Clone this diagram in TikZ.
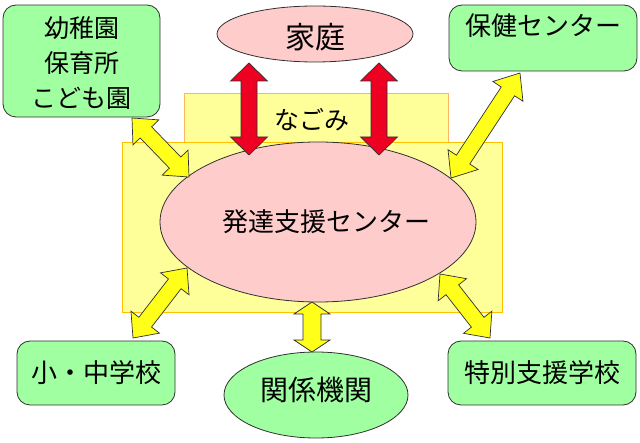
\documentclass[tikz,border=0pt]{standalone}
\usepackage{fontspec}
\setmainfont{Noto Sans CJK JP}
\usetikzlibrary{calc,shapes.geometric}
\definecolor{boxgreen}{HTML}{A0FFA0}
\definecolor{ovalpink}{HTML}{FFCCCC}
\definecolor{paleyellow}{HTML}{FFFF99}
\definecolor{rectorange}{HTML}{FFC000}
\definecolor{nagoorange}{HTML}{F9B860}
\definecolor{arrowyellow}{HTML}{FFFF1A}
\definecolor{arrowred}{HTML}{EE0022}
\definecolor{edgedark}{HTML}{303030}
% double-headed block arrow: #1 style, #2 from, #3 to, #4 shaft half width, #5 head half width, #6 head length
\newcommand\blockarrow[6]{%
  \draw[#1] (#2) -- ($(#2)!#6!(#3)!#5!90:(#3)$) -- ($(#2)!#6!(#3)!#4!90:(#3)$)
    -- ($(#3)!#6!(#2)!#4!-90:(#2)$) -- ($(#3)!#6!(#2)!#5!-90:(#2)$) -- (#3)
    -- ($(#3)!#6!(#2)!#5!90:(#2)$) -- ($(#3)!#6!(#2)!#4!90:(#2)$)
    -- ($(#2)!#6!(#3)!#4!-90:(#3)$) -- ($(#2)!#6!(#3)!#5!-90:(#3)$) -- cycle;}
\begin{document}
\begin{tikzpicture}[x=1pt,y=-1pt,
  box/.style={draw=edgedark, line width=0.8pt, fill=boxgreen, rounded corners=13pt, inner sep=0pt},
  oval/.style={draw=edgedark, line width=0.8pt, ellipse, inner sep=0pt},
  zone/.style={fill=paleyellow, line width=0.8pt},
  lbl/.style={font=\fontsize{#1pt}{35pt}\selectfont, align=center, inner sep=0pt, text=black},
  lbl/.default=26,
  yarrow/.style={fill=arrowyellow, draw=edgedark, line width=0.7pt, line join=miter},
  rarrow/.style={fill=arrowred, draw=edgedark, line width=0.7pt, line join=miter}]
\useasboundingbox (0,0) rectangle (640,443);

% background zones
\draw[zone, draw=nagoorange] (184,93) rectangle (448,160);
\draw[zone, draw=rectorange] (122,142) rectangle (502,312);
\node[lbl=25] (nagomi) at (312,120) {なごみ};

% central oval
\node[oval, fill=ovalpink, minimum width=316pt, minimum height=160pt,
      label={[lbl, xshift=8pt]center:発達支援センター}] (hub) at (318,222) {};

% family oval
\node[oval, fill=ovalpink, minimum width=196pt, minimum height=56pt,
      label={[lbl=30, yshift=-3pt]center:家庭}] (home) at (315,34) {};

% related organisations oval
\node[oval, fill=boxgreen, minimum width=184pt, minimum height=86pt,
      label={[lbl=28, yshift=5pt]center:関係機関}] (kankei) at (316,395) {};

% boxes
\node[box, minimum width=157pt, minimum height=112pt] (yochien) at (81.5,61) {};
\node[lbl=25] (yochientxt) at (81.5,63) {幼稚園\\保育所\\こども園};
\node[box, minimum width=188pt, minimum height=66pt] (hoken) at (543,38) {};
\node[lbl] (hokentxt) at (543,26) {保健センター};
\node[box, minimum width=158pt, minimum height=64pt] (shochu) at (96,373) {\fontsize{26pt}{30pt}\selectfont 小・中学校};
\node[box, minimum width=188pt, minimum height=64pt] (tokubetsu) at (542,373) {\fontsize{26pt}{30pt}\selectfont 特別支援学校};

% arrow end points
\coordinate (r1a) at (249,63);  \coordinate (r1b) at (249,155);
\coordinate (r2a) at (379,63);  \coordinate (r2b) at (379,155);
\coordinate (y1a) at (132,118); \coordinate (y1b) at (189,177);
\coordinate (y2a) at (520,73);  \coordinate (y2b) at (451,178);
\coordinate (y3a) at (187,268); \coordinate (y3b) at (133,338);
\coordinate (y4a) at (440,274); \coordinate (y4b) at (490,338);
\coordinate (y5a) at (312,302); \coordinate (y5b) at (312,352);

% arrows
\blockarrow{rarrow}{r1a}{r1b}{8pt}{18.5pt}{18pt}
\blockarrow{rarrow}{r2a}{r2b}{8pt}{18.5pt}{18pt}
\blockarrow{yarrow}{y1a}{y1b}{8pt}{18pt}{20pt}
\blockarrow{yarrow}{y2a}{y2b}{8pt}{18pt}{22pt}
\blockarrow{yarrow}{y3a}{y3b}{8pt}{18pt}{20pt}
\blockarrow{yarrow}{y4a}{y4b}{8pt}{18pt}{20pt}
\blockarrow{yarrow}{y5a}{y5b}{9pt}{18pt}{12pt}
\end{tikzpicture}
\end{document}
